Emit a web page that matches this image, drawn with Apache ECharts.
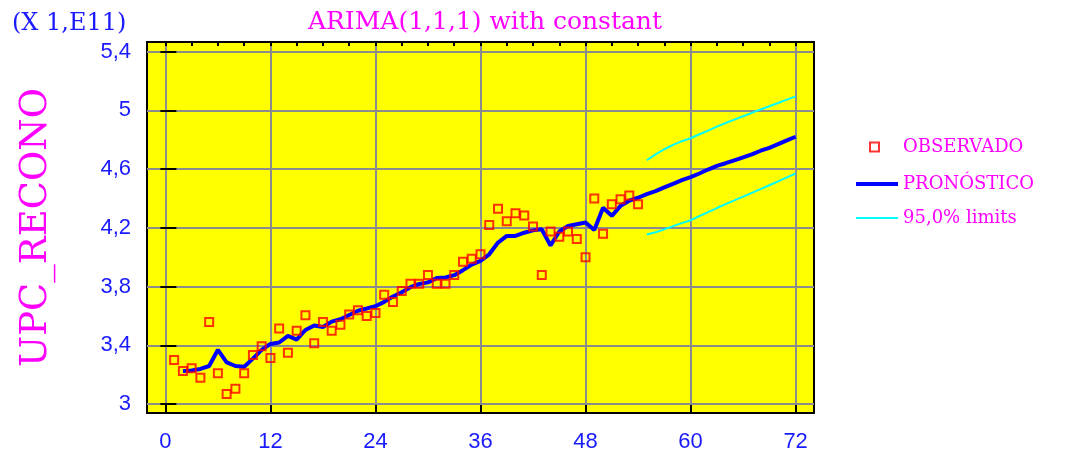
<!DOCTYPE html>
<html>
<head>
<meta charset="utf-8">
<script src="https://cdn.jsdelivr.net/npm/echarts@6/dist/echarts.min.js"></script>
<style>
html,body{margin:0;padding:0;background:#fff;}
#c{width:1065px;height:457px;}
</style>
</head>
<body>
<div id="c"></div>
<script>
// ---- data ----
const obsX = [1,2,3,4,5,6,7,8,9,10,11,12,13,14,15,16,17,18,19,20,21,22,23,24,25,26,27,28,29,30,31,32,33,34,35,36,37,38,39,40,41,42,43,44,45,46,47,48,49,50,51,52,53,54];
const observado = [3.30,3.225,3.245,3.18,3.56,3.21,3.07,3.105,3.21,3.335,3.395,3.315,3.515,3.35,3.50,3.605,3.415,3.56,3.50,3.54,3.61,3.64,3.60,3.62,3.745,3.695,3.77,3.82,3.82,3.88,3.82,3.82,3.88,3.97,3.99,4.02,4.22,4.33,4.245,4.30,4.285,4.21,3.88,4.175,4.14,4.175,4.125,4.00,4.40,4.16,4.36,4.395,4.42,4.36];
const fcX = [2,3,4,5,6,7,8,9,10,11,12,13,14,15,16,17,18,19,20,21,22,23,24,25,26,27,28,29,30,31,32,33,34,35,36,37,38,39,40,41,42,43,44,45,46,47,48,49,50,51,52,53,54,55,56,57,58,59,60,61,62,63,64,65,66,67,68,69,70,71,72];
const pronostico = [3.225,3.23,3.24,3.26,3.37,3.285,3.26,3.255,3.31,3.37,3.41,3.42,3.465,3.44,3.505,3.535,3.525,3.562,3.578,3.607,3.636,3.651,3.667,3.696,3.733,3.762,3.796,3.818,3.829,3.858,3.862,3.878,3.912,3.95,3.975,4.02,4.10,4.145,4.145,4.167,4.183,4.19,4.08,4.175,4.213,4.225,4.236,4.185,4.337,4.282,4.35,4.385,4.405,4.43,4.45,4.475,4.50,4.525,4.545,4.57,4.597,4.622,4.64,4.66,4.68,4.70,4.725,4.745,4.77,4.795,4.82];
const limX = [55,56,57,58,59,60,61,62,63,64,65,66,67,68,69,70,71,72];
const upper = [4.66,4.70,4.735,4.765,4.79,4.81,4.837,4.862,4.889,4.914,4.937,4.96,4.983,5.006,5.028,5.05,5.073,5.095];
const lower = [4.155,4.17,4.19,4.212,4.232,4.252,4.28,4.307,4.335,4.362,4.387,4.413,4.438,4.464,4.49,4.517,4.544,4.57];
const xTicks = [0,12,24,36,48,60,72];
const xTopTicks = [0,3,6,9,12,15,18,21,24,27,30,33,36,39,42,45,48,51,54,57,60,63,66,69,72];
const yTicks = [3,3.4,3.8,4.2,4.6,5,5.4];
const titleText = 'ARIMA(1,1,1) with constant';
const scaleText = '(X 1,E11)';
const yName = 'UPC_RECONO';
const legendNames = ['OBSERVADO','PRONÓSTICO','95,0% limits'];

const pair = (xs, ys) => xs.map((x, i) => [x, ys[i]]);
const comma = v => String(+(+v).toFixed(1)).replace('.', ',');

const chart = echarts.init(document.getElementById('c'), null, {renderer: 'canvas'});
const blue = '#1a1aff';
const magenta = '#ff00ff';
const legText = {color: magenta, fontFamily: 'DejaVu Serif', fontSize: 18};

chart.setOption({
  animation: false,
  backgroundColor: '#ffffff',
  title: [
    {text: titleText, left: 480, top: 5, textAlign: 'center',
     textStyle: {color: magenta, fontFamily: 'DejaVu Serif', fontSize: 25, fontWeight: 'normal'}},
    {text: scaleText, left: 7, top: 7,
     textStyle: {color: blue, fontFamily: 'DejaVu Serif', fontSize: 24, fontWeight: 'normal'}}
  ],
  legend: [
    {data: [legendNames[0]], left: 864, top: 133, itemWidth: 9, itemHeight: 9, orient: 'vertical',
     textStyle: Object.assign({padding: [0, 0, 0, 19]}, legText)},
    {data: [{name: legendNames[1], icon: 'rect'}], left: 851, top: 170, itemWidth: 42, itemHeight: 4, orient: 'vertical',
     textStyle: Object.assign({padding: [0, 0, 0, 0]}, legText)},
    {data: [{name: legendNames[2], icon: 'rect'}], left: 851, top: 204, itemWidth: 42, itemHeight: 2, orient: 'vertical',
     textStyle: Object.assign({padding: [0, 0, 0, 0]}, legText)}
  ],
  grid: {left: 147, right: 251, top: 42, bottom: 44, show: true, backgroundColor: '#ffff00',
         borderColor: '#000000', borderWidth: 2, containLabel: false},
  xAxis: [
    {type: 'value', min: -2.1, max: 74.1, position: 'bottom',
     axisLine: {show: false},
     axisTick: {show: true, inside: true, length: 8, customValues: xTicks, lineStyle: {color: '#000', width: 2}},
     axisLabel: {customValues: xTicks, color: blue, fontFamily: 'Liberation Sans', fontSize: 22, margin: 18,
                 formatter: v => comma(v)},
     splitLine: {show: true, lineStyle: {color: '#8c8c8c', width: 2}}},
    {type: 'value', min: -2.1, max: 74.1, position: 'top',
     axisLine: {show: false},
     axisTick: {show: true, inside: true, length: 4, customValues: xTopTicks, lineStyle: {color: '#000', width: 2}},
     axisLabel: {show: false}, splitLine: {show: false}}
  ],
  yAxis: [
    {type: 'value', min: 2.94, max: 5.465, position: 'left',
     name: yName, nameLocation: 'middle', nameRotate: 90, nameGap: 92,
     nameTextStyle: {color: magenta, fontFamily: 'DejaVu Serif', fontSize: 37},
     axisLine: {show: false},
     axisTick: {show: true, inside: true, length: 11, customValues: yTicks, lineStyle: {color: '#000', width: 2}},
     axisLabel: {customValues: yTicks, color: blue, fontFamily: 'Liberation Sans', fontSize: 22, margin: 16,
                 formatter: v => comma(v)},
     splitLine: {show: true, lineStyle: {color: '#8c8c8c', width: 2}}},
    {type: 'value', min: 2.94, max: 5.465, position: 'right', offset: -9,
     axisLine: {show: false},
     axisTick: {show: true, inside: true, length: 5, customValues: yTicks, lineStyle: {color: '#000', width: 2}},
     axisLabel: {show: false}, splitLine: {show: false}}
  ],
  series: [
    {name: legendNames[2], type: 'line', data: pair(limX, upper), symbol: 'none', smooth: false,
     lineStyle: {color: '#00ffff', width: 2}, itemStyle: {color: '#00ffff'}, z: 3},
    {name: legendNames[2], type: 'line', data: pair(limX, lower), symbol: 'none', smooth: false,
     lineStyle: {color: '#00ffff', width: 2}, itemStyle: {color: '#00ffff'}, z: 3},
    {name: legendNames[1], type: 'line', data: pair(fcX, pronostico), symbol: 'none', smooth: false,
     lineStyle: {color: '#0000ff', width: 4}, itemStyle: {color: '#0000ff'}, z: 4},
    {name: legendNames[0], type: 'scatter', data: pair(obsX, observado), symbol: 'rect', symbolSize: 8,
     itemStyle: {color: 'rgba(255,255,0,0)', borderColor: '#ff0000', borderWidth: 2}, z: 5}
  ]
});
</script>
</body>
</html>
